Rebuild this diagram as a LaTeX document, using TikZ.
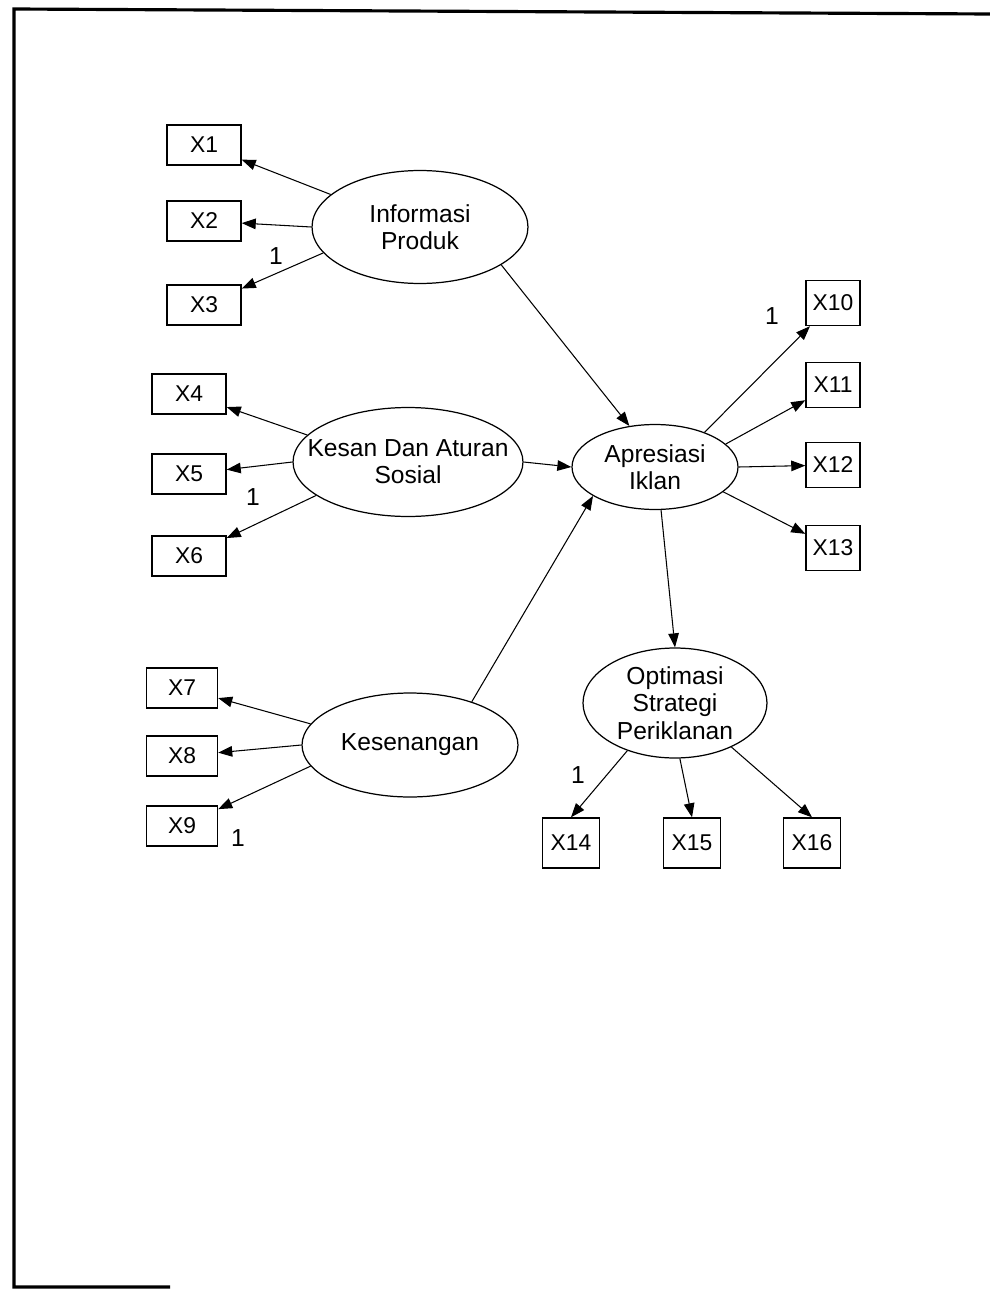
\documentclass[tikz,border=0pt]{standalone}
\usepackage{fontspec}
\setmainfont{Liberation Sans}
\usepackage{tikz}
\usetikzlibrary{arrows.meta}
\usetikzlibrary{shapes.geometric, positioning}

\begin{document}
\begin{tikzpicture}[x=0.02cm, y=-0.02cm,
    latent/.style={ellipse, draw, line width=0.7pt, inner sep=0pt},
    lbl/.style={align=center, font=\fontsize{14}{15.5}\selectfont},
    obs/.style={draw, line width=0.8pt, minimum width=1.48cm, minimum height=0.8cm, font=\fontsize{13}{14}\selectfont},
    arr/.style={-{Triangle[length=8pt, width=6pt]}, line width=0.6pt},
    wt/.style={font=\fontsize{14}{15}\selectfont}]
        \useasboundingbox (0,0) rectangle (990,1291);

        % Cornice
        \draw[line width=1.8pt] (170,1287) -- (14,1287) -- (14,9) -- (990,14);

        % Variabel laten
        \node[latent, minimum width=4.32cm, minimum height=2.26cm] (informasi) at (420,227) {};
        \node[lbl] (informasi-t) at (informasi) {Informasi\\Produk};
        \node[latent, minimum width=4.6cm, minimum height=2.18cm] (kesan) at (408,462) {};
        \node[lbl] (kesan-t) at (kesan) {Kesan Dan Aturan\\Sosial};
        \node[latent, minimum width=4.32cm, minimum height=2.08cm] (kesenangan) at (410,745) {};
        \node[lbl] (kesenangan-t) at (kesenangan) {Kesenangan};
        \node[latent, minimum width=3.32cm, minimum height=1.7cm] (apresiasi) at (655,467) {};
        \node[lbl] (apresiasi-t) at (apresiasi) {Apresiasi\\Iklan};
        \node[latent, minimum width=3.68cm, minimum height=2.2cm] (optimasi) at (675,703) {};
        \node[lbl] (optimasi-t) at (optimasi) {Optimasi\\Strategi\\Periklanan};

        % Indikator
        \node[obs] (x1) at (204,145) {X1};
        \node[obs] (x2) at (204,221) {X2};
        \node[obs] (x3) at (204,305) {X3};
        \node[obs] (x4) at (189,394) {X4};
        \node[obs] (x5) at (189,474) {X5};
        \node[obs] (x6) at (189,556) {X6};
        \node[obs, minimum width=1.42cm] (x7) at (182,688) {X7};
        \node[obs, minimum width=1.42cm] (x8) at (182,756) {X8};
        \node[obs, minimum width=1.42cm] (x9) at (182,826) {X9};
        \node[obs, minimum width=1.08cm, minimum height=0.9cm] (x10) at (833,303) {X10};
        \node[obs, minimum width=1.08cm, minimum height=0.9cm] (x11) at (833,385) {X11};
        \node[obs, minimum width=1.08cm, minimum height=0.9cm] (x12) at (833,465) {X12};
        \node[obs, minimum width=1.08cm, minimum height=0.9cm] (x13) at (833,548) {X13};
        \node[obs, minimum width=1.14cm, minimum height=1.0cm] (x14) at (571,843) {X14};
        \node[obs, minimum width=1.14cm, minimum height=1.0cm] (x15) at (692,843) {X15};
        \node[obs, minimum width=1.14cm, minimum height=1.0cm] (x16) at (812,843) {X16};

        % Panah
        \draw[arr] (informasi.160) -- (x1);
        \draw[arr] (informasi.180) -- (x2);
        \draw[arr] (informasi.195) -- (x3);
        \draw[arr] (kesan.165) -- (x4);
        \draw[arr] (kesan.180) -- (x5);
        \draw[arr] (kesan.200) -- (x6);
        \draw[arr] (kesenangan.168) -- (x7);
        \draw[arr] (kesenangan.180) -- (x8);
        \draw[arr] (kesenangan.192) -- (x9);
        \draw[arr] (informasi.335) -- (apresiasi.122);
        \draw[arr] (kesan.0) -- (apresiasi.180);
        \draw[arr] (kesenangan.35) -- (apresiasi.205);
        \draw[arr] (apresiasi.35) -- (x10);
        \draw[arr] (apresiasi.18) -- (x11);
        \draw[arr] (apresiasi.0) -- (x12);
        \draw[arr] (apresiasi.340) -- (x13);
        \draw[arr] (apresiasi.278) -- (optimasi.north);
        \draw[arr] (optimasi.225) -- (x14.north);
        \draw[arr] (optimasi.275) -- (x15.north);
        \draw[arr] (optimasi.322) -- (x16.north);

        % Bobot
        \node[wt] (w3) at (276,256) {1};
        \node[wt] (w6) at (253,497) {1};
        \node[wt] (w9) at (238,838) {1};
        \node[wt] (w10) at (772,316) {1};
        \node[wt] (w14) at (578,775) {1};
\end{tikzpicture}
\end{document}
